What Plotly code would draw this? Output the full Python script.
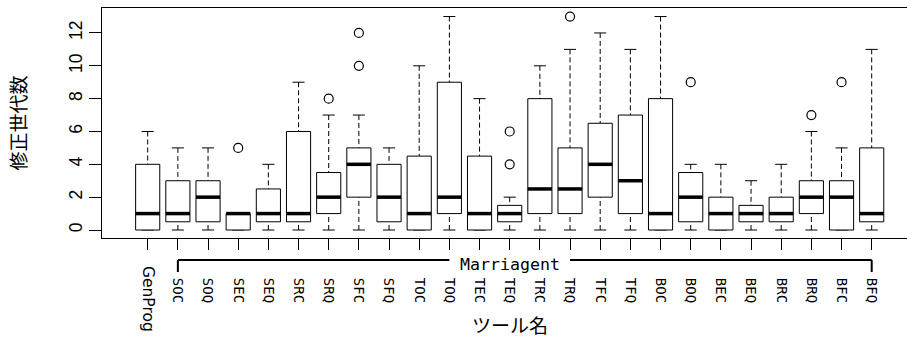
import plotly.graph_objects as go

# ---- data ----
tools = ["GenProg", "SOC", "SOQ", "SEC", "SEQ", "SRC", "SRQ", "SFC", "SFQ", "TOC",
         "TOQ", "TEC", "TEQ", "TRC", "TRQ", "TFC", "TFQ", "BOC", "BOQ", "BEC",
         "BEQ", "BRC", "BRQ", "BFC", "BFQ"]
whisker_low = [0, 0, 0, 0, 0, 0, 0, 0, 0, 0, 0, 0, 0, 0, 0, 0, 0, 0, 0, 0, 0, 0, 0, 0, 0]
q1 = [0, 0.5, 0.5, 0, 0.5, 0.5, 1, 2, 0.5, 0, 1, 0, 0.5, 1, 1, 2, 1, 0, 0.5, 0, 0.5, 0.5, 1, 0, 0.5]
median = [1, 1, 2, 1, 1, 1, 2, 4, 2, 1, 2, 1, 1, 2.5, 2.5, 4, 3, 1, 2, 1, 1, 1, 2, 2, 1]
q3 = [4, 3, 3, 1, 2.5, 6, 3.5, 5, 4, 4.5, 9, 4.5, 1.5, 8, 5, 6.5, 7, 8, 3.5, 2, 1.5, 2, 3, 3, 5]
whisker_high = [6, 5, 5, 1, 4, 9, 7, 7, 5, 10, 13, 8, 2, 10, 11, 12, 11, 13, 4, 4, 3, 4, 6, 5, 11]
outliers = {"SEC": [5], "SRQ": [8], "SFC": [10, 12], "TEQ": [4, 6], "TRQ": [13],
            "BOQ": [9], "BRQ": [7], "BFC": [9]}
y_ticks = [0, 2, 4, 6, 8, 10, 12]
group_name = "Marriagent"
group_first, group_last = "SOC", "BFQ"

# ---- style ----
HALF = 0.4      # half box width
CAP = 0.2       # half staple width
MONO = "DejaVu Sans Mono"
CJK = "Noto Sans CJK JP"

bx, by, mx, my, wx, wy, cx, cy, ox, oy = ([] for _ in range(10))
for i, name in enumerate(tools):
    bx += [i - HALF, i + HALF, i + HALF, i - HALF, i - HALF, None]
    by += [q1[i], q1[i], q3[i], q3[i], q1[i], None]
    mx += [i - HALF, i + HALF, None]
    my += [median[i], median[i], None]
    if whisker_high[i] > q3[i]:
        wx += [i, i, None]
        wy += [whisker_high[i], q3[i], None]
    if whisker_low[i] < q1[i]:
        wx += [i, i, None]
        wy += [whisker_low[i], q1[i], None]
    cx += [i - CAP, i + CAP, None, i - CAP, i + CAP, None]
    cy += [whisker_high[i], whisker_high[i], None, whisker_low[i], whisker_low[i], None]
    for v in outliers.get(name, []):
        ox.append(i)
        oy.append(v)

fig = go.Figure()
common = dict(mode="lines", hoverinfo="skip", showlegend=False)
fig.add_trace(go.Scatter(x=wx, y=wy, line=dict(color="black", width=1, dash="5px,3px"), **common))
fig.add_trace(go.Scatter(x=cx, y=cy, line=dict(color="black", width=1), **common))
fig.add_trace(go.Scatter(x=bx, y=by, fill="toself", fillcolor="white",
                         line=dict(color="black", width=1), **common))
fig.add_trace(go.Scatter(x=mx, y=my, line=dict(color="black", width=3.5), **common))
fig.add_trace(go.Scatter(x=ox, y=oy, mode="markers", hoverinfo="skip", showlegend=False,
                         marker=dict(symbol="circle-open", size=9, color="black",
                                     line=dict(width=1.2, color="black"))))

n = len(tools)
fig.update_layout(
    width=907, height=342,
    margin=dict(l=102, r=0, t=8, b=104, pad=0),
    paper_bgcolor="white", plot_bgcolor="white",
    xaxis=dict(range=[-1.515, 25.17], tickmode="array", tickvals=list(range(n)),
               ticktext=[""] + tools[1:], tickangle=90, ticks="outside", ticklen=11,
               tickcolor="black", showline=True, linecolor="black", linewidth=1,
               mirror=True, showgrid=False, zeroline=False,
               tickfont=dict(family=MONO, size=14, color="black"),
               ticklabelstandoff=25),
    xaxis2=dict(range=[-1.515, 25.17], overlaying="x", side="bottom", tickmode="array",
                tickvals=[0], ticktext=[tools[0]], tickangle=90, ticks="",
                showline=False, showgrid=False, zeroline=False,
                tickfont=dict(family="DejaVu Sans", size=15.5, color="black"),
                ticklabelstandoff=27),
    yaxis=dict(range=[-0.487, 13.52], tickmode="array", tickvals=y_ticks,
               ticktext=[str(v) for v in y_ticks], tickangle=-90, ticks="outside",
               ticklen=12, tickcolor="black", showline=True, linecolor="black",
               linewidth=1, mirror=False, showgrid=False, zeroline=False,
               tickfont=dict(family="Liberation Sans", size=17.5, color="black")),
)
fig.add_trace(go.Scatter(x=[0], y=[None], xaxis="x2", hoverinfo="skip", showlegend=False))

# Marriagent bracket
i0, i1 = tools.index(group_first), tools.index(group_last)
ic = (i0 + i1) / 2 - 0.5
gap = 2.0
y_line, y_drop = -0.0957, -0.148
for xa, xb in [(i0, ic - gap), (ic + gap, i1)]:
    fig.add_shape(type="line", xref="x", yref="paper", x0=xa, x1=xb, y0=y_line, y1=y_line,
                  line=dict(color="black", width=2))
for xa in (i0, i1):
    fig.add_shape(type="line", xref="x", yref="paper", x0=xa, x1=xa, y0=y_line, y1=y_drop,
                  line=dict(color="black", width=2))
fig.add_annotation(x=ic, xref="x", y=-0.117, yref="paper", text=group_name, showarrow=False,
                   font=dict(family=MONO, size=16.6, color="black"), xanchor="center",
                   yanchor="middle")
fig.add_annotation(x=ic, xref="x", y=-0.375, yref="paper", text="ツール名", showarrow=False,
                   font=dict(family=CJK, size=19, color="black"), xanchor="center",
                   yanchor="middle")
fig.add_annotation(x=-0.105, xref="paper", y=0.5, yref="paper", text="修正世代数",
                   textangle=-90, showarrow=False,
                   font=dict(family=CJK, size=19, color="black"), xanchor="center",
                   yanchor="middle")

fig.write_html("out.html")
